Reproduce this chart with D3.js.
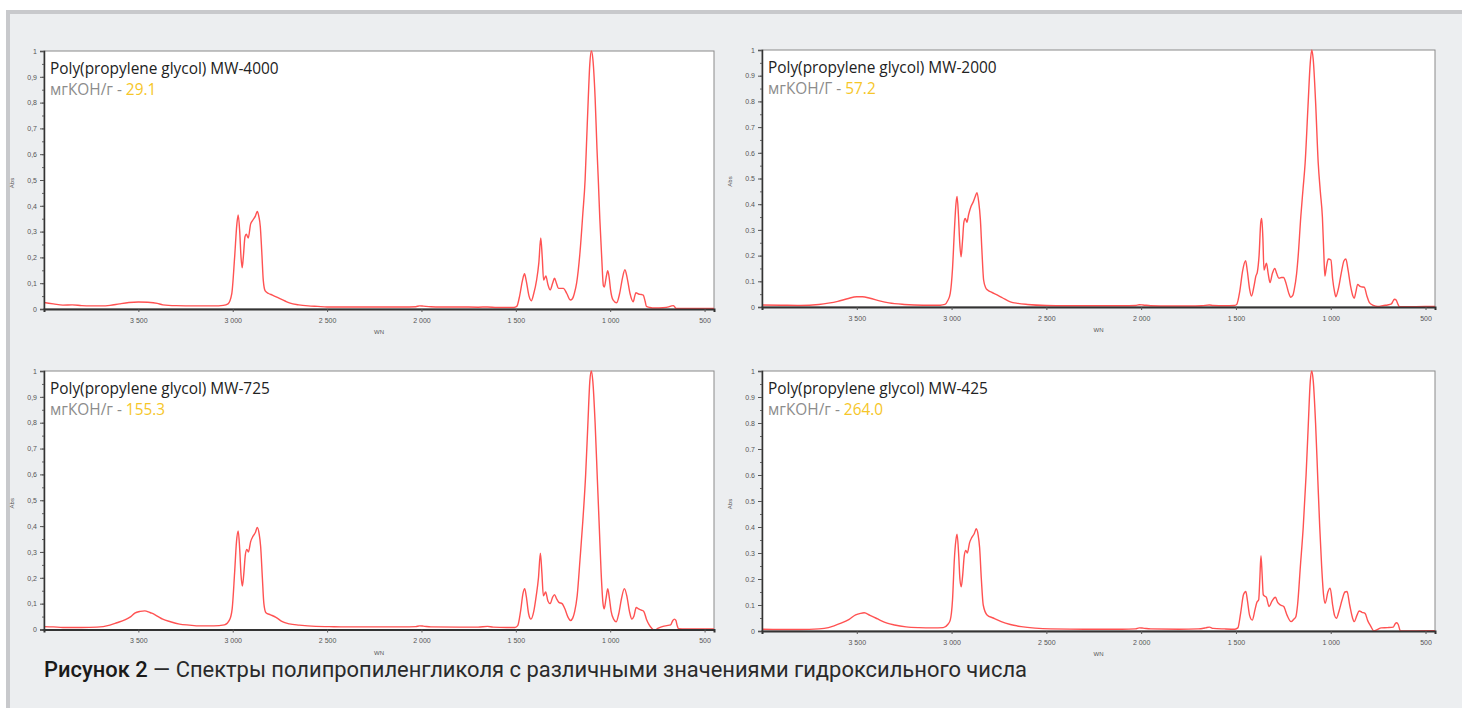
<!DOCTYPE html>
<html>
<head>
<meta charset="utf-8">
<script src="https://cdn.jsdelivr.net/npm/d3@7"></script>
<style>
body { margin: 0; background: #fff; }
svg { display: block; }
.tick text { fill: #555; font-family: 'Liberation Sans', Arial, sans-serif; font-size: 7px; }
</style>
</head>
<body>
<div id="chart"></div>
<script>
var width = 1462,
    height = 708;

// spectra, [wavenumber, absorbance]
var ppg4000 = [[4000,0.025],[3950,0.02],[3900,0.015],[3850,0.016],[3800,0.013],[3750,0.012],[3700,0.012],[3650,0.014],[3600,0.02],[3550,0.025],[3500,0.027],[3450,0.026],[3400,0.022],[3370,0.016],[3300,0.013],[3200,0.012],[3100,0.012],[3050,0.014],[3025,0.02],[3005,0.06],[2990,0.2],[2978,0.33],[2971,0.365],[2963,0.3],[2956,0.2],[2950,0.16],[2944,0.2],[2935,0.28],[2928,0.29],[2918,0.275],[2905,0.33],[2893,0.345],[2880,0.36],[2870,0.378],[2862,0.36],[2854,0.32],[2846,0.22],[2838,0.11],[2828,0.07],[2810,0.06],[2790,0.054],[2770,0.047],[2750,0.04],[2720,0.03],[2700,0.024],[2650,0.016],[2600,0.012],[2550,0.01],[2500,0.008],[2400,0.008],[2300,0.008],[2200,0.008],[2100,0.008],[2030,0.009],[2010,0.012],[1990,0.011],[1950,0.009],[1900,0.008],[1800,0.008],[1700,0.007],[1650,0.008],[1600,0.006],[1550,0.006],[1510,0.006],[1495,0.01],[1480,0.05],[1465,0.11],[1454,0.137],[1445,0.11],[1430,0.05],[1418,0.032],[1405,0.06],[1390,0.112],[1378,0.18],[1368,0.275],[1360,0.2],[1353,0.112],[1341,0.128],[1330,0.095],[1318,0.074],[1305,0.1],[1295,0.119],[1285,0.1],[1274,0.08],[1260,0.08],[1248,0.08],[1230,0.06],[1212,0.035],[1200,0.04],[1190,0.06],[1178,0.1],[1160,0.22],[1145,0.37],[1133,0.5],[1125,0.65],[1116,0.82],[1108,0.95],[1100,1.0],[1092,0.97],[1080,0.82],[1070,0.62],[1063,0.5],[1055,0.35],[1045,0.2],[1036,0.09],[1031,0.085],[1022,0.12],[1013,0.148],[1005,0.12],[998,0.074],[985,0.035],[966,0.024],[950,0.06],[935,0.12],[922,0.152],[910,0.12],[895,0.06],[878,0.028],[870,0.05],[864,0.063],[850,0.058],[835,0.056],[825,0.054],[815,0.03],[808,0.01],[790,0.006],[764,0.004],[720,0.005],[690,0.008],[675,0.012],[665,0.013],[658,0.008],[650,0.002],[600,0.002],[500,0.002],[450,0.002]];

var ppg2000 = [[4000,0.008],[3900,0.007],[3800,0.006],[3700,0.01],[3650,0.015],[3600,0.022],[3550,0.032],[3500,0.04],[3470,0.04],[3430,0.034],[3380,0.024],[3330,0.016],[3250,0.01],[3150,0.007],[3060,0.007],[3035,0.01],[3020,0.025],[3007,0.053],[2995,0.15],[2985,0.3],[2977,0.4],[2971,0.43],[2964,0.36],[2957,0.25],[2950,0.195],[2943,0.25],[2935,0.33],[2928,0.345],[2919,0.33],[2910,0.36],[2898,0.39],[2885,0.41],[2875,0.43],[2866,0.445],[2857,0.41],[2848,0.34],[2840,0.22],[2831,0.105],[2820,0.075],[2810,0.066],[2790,0.058],[2760,0.047],[2730,0.035],[2690,0.02],[2650,0.014],[2600,0.01],[2500,0.006],[2400,0.005],[2300,0.005],[2200,0.005],[2100,0.005],[2030,0.006],[2010,0.009],[1990,0.008],[1950,0.005],[1850,0.004],[1750,0.004],[1680,0.005],[1640,0.008],[1620,0.006],[1560,0.005],[1510,0.006],[1496,0.01],[1480,0.06],[1465,0.14],[1449,0.18],[1440,0.14],[1428,0.07],[1418,0.043],[1405,0.08],[1395,0.12],[1387,0.137],[1378,0.2],[1369,0.33],[1364,0.345],[1358,0.27],[1352,0.144],[1339,0.17],[1330,0.13],[1320,0.095],[1308,0.13],[1295,0.15],[1285,0.13],[1273,0.112],[1260,0.115],[1249,0.115],[1235,0.09],[1222,0.055],[1211,0.038],[1200,0.045],[1193,0.066],[1180,0.13],[1172,0.196],[1158,0.35],[1146,0.46],[1135,0.56],[1120,0.78],[1108,0.95],[1100,1.0],[1092,0.96],[1080,0.8],[1066,0.56],[1055,0.45],[1044,0.35],[1036,0.2],[1031,0.12],[1022,0.16],[1013,0.187],[999,0.183],[990,0.11],[980,0.06],[973,0.04],[960,0.07],[945,0.13],[930,0.18],[920,0.187],[910,0.15],[895,0.08],[884,0.045],[876,0.034],[867,0.06],[858,0.088],[845,0.08],[835,0.078],[823,0.077],[810,0.045],[796,0.017],[775,0.006],[752,0.002],[720,0.006],[700,0.008],[680,0.012],[670,0.025],[663,0.03],[655,0.027],[645,0.01],[638,0.001],[600,0.001],[500,0.002],[450,0.002]];

var ppg725 = [[4000,0.011],[3950,0.01],[3900,0.008],[3800,0.008],[3720,0.009],[3651,0.017],[3614,0.026],[3572,0.037],[3540,0.05],[3519,0.063],[3490,0.07],[3466,0.072],[3440,0.066],[3429,0.063],[3400,0.052],[3371,0.04],[3330,0.03],[3282,0.021],[3230,0.017],[3176,0.014],[3100,0.014],[3044,0.018],[3017,0.037],[3003,0.08],[2990,0.22],[2980,0.34],[2971,0.381],[2963,0.31],[2956,0.21],[2949,0.168],[2942,0.21],[2933,0.29],[2925,0.31],[2917,0.3],[2905,0.34],[2893,0.36],[2880,0.375],[2870,0.395],[2860,0.37],[2852,0.32],[2843,0.2],[2835,0.1],[2824,0.065],[2800,0.057],[2771,0.047],[2737,0.03],[2700,0.022],[2648,0.017],[2560,0.012],[2489,0.011],[2400,0.01],[2200,0.01],[2100,0.01],[2030,0.011],[2010,0.014],[1990,0.013],[1950,0.01],[1800,0.009],[1700,0.009],[1650,0.012],[1620,0.009],[1550,0.008],[1505,0.008],[1490,0.015],[1475,0.07],[1462,0.14],[1453,0.158],[1445,0.13],[1432,0.06],[1420,0.04],[1405,0.07],[1392,0.13],[1380,0.2],[1370,0.295],[1362,0.22],[1354,0.13],[1342,0.145],[1330,0.11],[1318,0.1],[1305,0.125],[1295,0.135],[1285,0.12],[1272,0.105],[1255,0.1],[1240,0.08],[1225,0.05],[1210,0.035],[1198,0.045],[1188,0.07],[1175,0.13],[1160,0.27],[1145,0.42],[1130,0.6],[1118,0.8],[1108,0.96],[1100,1.0],[1092,0.96],[1080,0.8],[1068,0.58],[1058,0.4],[1048,0.22],[1038,0.1],[1032,0.08],[1022,0.12],[1013,0.158],[1004,0.12],[995,0.07],[982,0.04],[968,0.03],[955,0.06],[940,0.12],[925,0.158],[912,0.13],[898,0.07],[885,0.04],[875,0.05],[862,0.085],[850,0.08],[835,0.075],[822,0.07],[808,0.04],[795,0.02],[780,0.005],[765,-0.003],[745,0.005],[720,0.012],[700,0.015],[680,0.018],[668,0.035],[660,0.04],[652,0.035],[645,0.015],[638,0.003],[600,0.002],[500,0.002],[450,0.002]];

var ppg425 = [[4000,0.007],[3900,0.006],[3800,0.006],[3700,0.008],[3672,0.01],[3620,0.02],[3583,0.03],[3540,0.045],[3506,0.062],[3480,0.068],[3461,0.07],[3430,0.06],[3400,0.05],[3378,0.042],[3340,0.03],[3301,0.023],[3240,0.016],[3172,0.013],[3100,0.012],[3044,0.013],[3020,0.025],[3007,0.042],[2995,0.12],[2985,0.28],[2977,0.35],[2971,0.372],[2963,0.3],[2956,0.2],[2949,0.17],[2942,0.21],[2933,0.29],[2925,0.31],[2917,0.3],[2905,0.34],[2893,0.36],[2880,0.375],[2870,0.393],[2860,0.37],[2852,0.32],[2843,0.2],[2833,0.1],[2813,0.062],[2780,0.05],[2738,0.036],[2690,0.025],[2633,0.017],[2560,0.011],[2478,0.008],[2300,0.007],[2100,0.007],[2030,0.008],[2010,0.012],[1990,0.011],[1950,0.008],[1800,0.007],[1700,0.008],[1660,0.012],[1640,0.015],[1620,0.01],[1560,0.008],[1505,0.007],[1490,0.012],[1475,0.07],[1460,0.14],[1448,0.152],[1440,0.12],[1428,0.06],[1414,0.042],[1400,0.08],[1390,0.11],[1380,0.12],[1374,0.2],[1368,0.29],[1362,0.22],[1356,0.14],[1350,0.135],[1340,0.13],[1325,0.094],[1310,0.115],[1292,0.13],[1280,0.11],[1265,0.1],[1248,0.094],[1230,0.06],[1209,0.036],[1195,0.045],[1184,0.055],[1175,0.1],[1160,0.25],[1145,0.4],[1130,0.6],[1118,0.8],[1108,0.96],[1100,1.0],[1092,0.96],[1080,0.8],[1068,0.58],[1058,0.4],[1048,0.25],[1038,0.14],[1029,0.107],[1015,0.15],[1003,0.165],[990,0.1],[980,0.06],[970,0.049],[955,0.08],[940,0.12],[925,0.15],[914,0.152],[900,0.1],[885,0.05],[876,0.036],[862,0.06],[850,0.077],[835,0.072],[819,0.068],[805,0.04],[790,0.02],[772,0.0],[755,0.005],[734,0.012],[700,0.013],[670,0.015],[660,0.028],[652,0.032],[644,0.025],[632,0.0],[600,0.0],[500,0.001],[450,0.001]];

var titles = ['Poly(propylene glycol) MW-4000', 'Poly(propylene glycol) MW-2000',
              'Poly(propylene glycol) MW-725', 'Poly(propylene glycol) MW-425'];
var units = ['мгКОН/г', 'мгКОН/Г', 'мгКОН/г', 'мгКОН/г'];
var values = ['29.1', '57.2', '155.3', '264.0'];
var decimalMarks = [',', '.', ',', '.'];
var spectra = [ppg4000, ppg2000, ppg725, ppg425];

var xTicks = [3500, 3000, 2500, 2000, 1500, 1000, 500];
var yTicks = [0, 0.1, 0.2, 0.3, 0.4, 0.5, 0.6, 0.7, 0.8, 0.9, 1];
var xDomain = [4000, 450];
var yDomain = [0, 1];
var caption = ['Рисунок 2', ' — Спектры полипропиленгликоля с различными значениями гидроксильного числа'];

// plot boxes in page pixels
var boxes = [
    {x: 44, y: 51, w: 670, h: 258},
    {x: 762, y: 50, w: 673, h: 257},
    {x: 44, y: 371, w: 670, h: 258.5},
    {x: 762, y: 371, w: 673, h: 260}
];

var svg = d3.select('#chart')
    .append('svg')
    .attr('width', width)
    .attr('height', height);

svg.append('rect').attr('x', 6).attr('y', 10).attr('width', width - 6).attr('height', height - 10).attr('fill', '#c8c9cc');
svg.append('rect').attr('x', 10).attr('y', 14).attr('width', width - 10).attr('height', height - 14).attr('fill', '#eceef0');

boxes.forEach((b, i) => {
    var g = svg.append('g').attr('transform', 'translate(' + b.x + ',' + b.y + ')');

    var x = d3.scaleLinear().domain(xDomain).range([0, b.w]);
    var y = d3.scaleLinear().domain(yDomain).range([b.h, 0]);

    g.append('rect')
        .attr('width', b.w)
        .attr('height', b.h)
        .attr('fill', '#fff')
        .attr('stroke', '#8a8a8a')
        .attr('stroke-width', 1);

    var line = d3.line()
        .x(d => x(d[0]))
        .y(d => y(d[1]))
        .curve(d3.curveMonotoneX);

    g.append('path')
        .datum(spectra[i])
        .attr('fill', 'none')
        .attr('stroke', '#ff5252')
        .attr('stroke-width', 1.4)
        .attr('d', line);

    // minor y ticks
    g.append('g')
        .call(d3.axisLeft(y).ticks(20).tickSize(2).tickFormat(''))
        .call(a => a.select('.domain').remove())
        .selectAll('line').attr('stroke', '#666');

    var sep = decimalMarks[i];
    var yAxis = g.append('g')
        .call(d3.axisLeft(y)
            .tickValues(yTicks)
            .tickSize(4)
            .tickPadding(3)
            .tickFormat(d => (d === 0 || d === 1) ? String(d) : d3.format('.1f')(d).replace('.', sep)));
    yAxis.select('.domain').attr('stroke', '#333').attr('stroke-width', 1.5);
    yAxis.selectAll('.tick line').attr('stroke', '#555');

    var xAxis = g.append('g')
        .attr('transform', 'translate(0,' + b.h + ')')
        .call(d3.axisBottom(x)
            .tickValues(xTicks)
            .tickSize(3)
            .tickPadding(6)
            .tickFormat(d => d >= 1000 ? d3.format(',')(d).replace(',', ' ') : String(d)));
    xAxis.select('.domain').attr('stroke', '#333').attr('stroke-width', 2);
    xAxis.selectAll('.tick line').attr('stroke', '#555');

    g.append('text')
        .attr('transform', 'translate(-30,' + (b.h / 2 + 3) + ')rotate(-90)')
        .attr('text-anchor', 'middle')
        .attr('font-family', 'Liberation Sans, Arial, sans-serif')
        .attr('font-size', 6)
        .attr('fill', '#555')
        .text('Abs');

    g.append('text')
        .attr('x', b.w / 2)
        .attr('y', b.h + 25)
        .attr('text-anchor', 'middle')
        .attr('font-family', 'Liberation Sans, Arial, sans-serif')
        .attr('font-size', 6)
        .attr('fill', '#555')
        .text('WN');

    g.append('text')
        .attr('x', 6)
        .attr('y', 23)
        .attr('font-family', 'Open Sans, sans-serif')
        .attr('font-size', 15.4)
        .attr('fill', '#222')
        .text(titles[i]);

    var sub = g.append('text')
        .attr('x', 6)
        .attr('y', 44)
        .attr('font-family', 'Open Sans, sans-serif')
        .attr('font-size', 15.4)
        .attr('fill', '#8c8c8c');
    sub.append('tspan').text(units[i] + ' - ');
    sub.append('tspan').attr('fill', '#f6c628').text(values[i]);
});

var cap = svg.append('text')
    .attr('x', 44)
    .attr('y', 677)
    .attr('font-family', 'Roboto, sans-serif')
    .attr('font-size', 22)
    .attr('fill', '#2a2a2a')
    .attr('textLength', 983)
    .attr('lengthAdjust', 'spacingAndGlyphs');
cap.append('tspan').attr('font-weight', 500).attr('fill', '#1a1a1a').text(caption[0]);
cap.append('tspan').text(caption[1]);
</script>
</body>
</html>
